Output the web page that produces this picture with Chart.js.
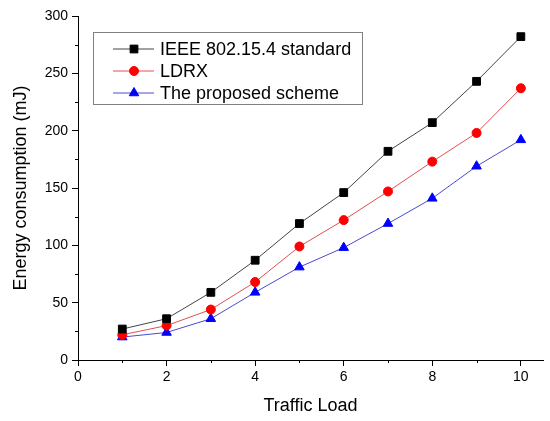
<!DOCTYPE html>
<html>
<head>
<meta charset="utf-8">
<script src="https://cdn.jsdelivr.net/npm/chart.js@4/dist/chart.umd.min.js"></script>
<style>
  html, body { margin: 0; padding: 0; background: #fff; }
  #box { width: 550px; height: 421px; }
</style>
</head>
<body>
<div id="box"><canvas id="myChart"></canvas></div>
<script>
// ==== data ====
const trafficLoad = [1, 2, 3, 4, 5, 6, 7, 8, 9, 10];
const ieee802154 = [27, 36, 59, 87, 119, 146, 182, 207, 243, 282];
const ldrx = [22, 30, 44, 68, 99, 122, 147, 173, 198, 237];
const proposedScheme = [20, 24, 36, 59, 81, 98, 119, 141, 169, 192];
const seriesNames = ['IEEE 802.15.4 standard', 'LDRX', 'The proposed scheme'];

const FONT = "Arial, 'Liberation Sans', sans-serif";

function points(values) {
  return trafficLoad.map((x, i) => ({x: x, y: values[i]}));
}

// petits traits (minor ticks) entre les graduations
const minorTicks = {
  id: 'minorTicks',
  afterDraw(chart) {
    const {ctx, chartArea: {bottom, left}, scales: {x, y}} = chart;
    ctx.save();
    ctx.strokeStyle = '#000';
    ctx.lineWidth = 1;
    ctx.beginPath();
    for (let v = 1; v <= 9; v += 2) {
      const px = Math.round(x.getPixelForValue(v)) + 0.5;
      ctx.moveTo(px, bottom);
      ctx.lineTo(px, bottom + 3);
    }
    for (let v = 25; v <= 275; v += 50) {
      const py = Math.round(y.getPixelForValue(v)) + 0.5;
      ctx.moveTo(left, py);
      ctx.lineTo(left - 3, py);
    }
    ctx.stroke();
    ctx.restore();
  }
};

// légende encadrée façon Origin (ligne + symbole)
const boxLegend = {
  id: 'boxLegend',
  afterDraw(chart) {
    const {ctx, chartArea: {top, left}} = chart;
    const bx = left + 15, by = top + 16, bw = 269, bh = 72;
    ctx.save();
    ctx.strokeStyle = '#808080';
    ctx.lineWidth = 1;
    ctx.strokeRect(Math.round(bx) + 0.5, Math.round(by) + 0.5, bw, bh);
    ctx.font = '18px ' + FONT;
    ctx.textBaseline = 'middle';
    chart.data.datasets.forEach((ds, i) => {
      const ry = by + 17 + i * 22;
      ctx.strokeStyle = ds.borderColor;
      ctx.lineWidth = 1;
      ctx.beginPath();
      ctx.moveTo(bx + 20, ry);
      ctx.lineTo(bx + 61, ry);
      ctx.stroke();
      ctx.fillStyle = ds.pointBackgroundColor;
      ctx.strokeStyle = ds.pointBorderColor;
      Chart.helpers.drawPoint(ctx, {
        pointStyle: ds.pointStyle, radius: ds.pointRadius, rotation: 0, borderWidth: 1
      }, bx + 41, ry);
      ctx.fillStyle = '#000';
      ctx.fillText(ds.label, bx + 67, ry + 1);
    });
    ctx.restore();
  }
};

const data = {
  datasets: [
    {
      label: seriesNames[0], data: points(ieee802154),
      borderColor: '#444', borderWidth: 1,
      pointStyle: 'rect', pointRadius: 5.5,
      pointBackgroundColor: '#000', pointBorderColor: '#000'
    },
    {
      label: seriesNames[1], data: points(ldrx),
      borderColor: '#e05050', borderWidth: 1,
      pointStyle: 'circle', pointRadius: 4.5,
      pointBackgroundColor: '#ff0000', pointBorderColor: '#ff0000'
    },
    {
      label: seriesNames[2], data: points(proposedScheme),
      borderColor: '#4a4ad0', borderWidth: 1,
      pointStyle: 'triangle', pointRadius: 5.5,
      pointBackgroundColor: '#0000ff', pointBorderColor: '#0000ff'
    }
  ]
};

const config = {
  type: 'line',
  data,
  options: {
    responsive: true,
    maintainAspectRatio: false,
    animation: false,
    layout: { padding: { top: 16, right: 7, left: 0, bottom: 0 } },
    scales: {
      x: {
        type: 'linear', min: 0, max: 10.5,
        grid: { display: true, drawOnChartArea: false, drawTicks: true, tickLength: 6, color: '#000' },
        border: { display: true, color: '#000', width: 1 },
        ticks: { stepSize: 2, includeBounds: false, color: '#000', font: { family: FONT, size: 14 }, padding: 3 },
        title: { display: true, text: 'Traffic Load', color: '#000', font: { family: FONT, size: 18 }, padding: { top: 6 } },
        afterFit(scale) { scale.height = 61; }
      },
      y: {
        min: 0, max: 300,
        grid: { display: true, drawOnChartArea: false, drawTicks: true, tickLength: 6, color: '#000' },
        border: { display: true, color: '#000', width: 1 },
        ticks: { stepSize: 50, color: '#000', font: { family: FONT, size: 14 }, padding: 4 },
        title: { display: true, text: 'Energy consumption (mJ)', color: '#000', font: { family: FONT, size: 18 }, padding: { top: 10, bottom: 4 } },
        afterFit(scale) { scale.width = 78; }
      }
    },
    plugins: {
      legend: { display: false },
      tooltip: { enabled: false }
    }
  },
  plugins: [minorTicks, boxLegend]
};

const myChart = new Chart(document.getElementById('myChart'), config);
</script>
</body>
</html>
